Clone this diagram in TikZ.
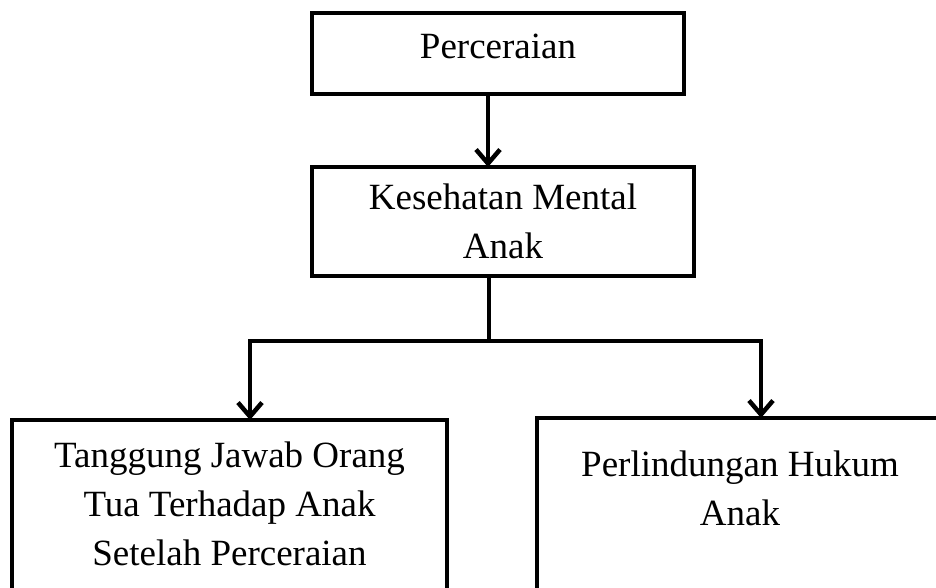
\documentclass[tikz,border=0pt]{standalone}
\usepackage{fontspec}
\setmainfont{Liberation Serif}
\usetikzlibrary{arrows.meta,positioning}

\begin{document}
\begin{tikzpicture}[
  x=1pt, y=-1pt,
  font=\fontsize{37pt}{49pt}\selectfont,
  box/.style={draw, line width=4.5pt, outer sep=0pt, inner sep=0pt, align=center},
  link/.style={line width=4.5pt},
  arrow/.style={-{Straight Barb[length=14pt, width=24pt]}, line width=4.5pt}
]
\useasboundingbox (0,0) rectangle (936,587);
\clip (0,0) rectangle (936,587);

\node[box, minimum width=372pt, minimum height=81pt, text depth=14pt] (cerai) at (498,53.5) {Perceraian};
\node[box, minimum width=382pt, minimum height=109pt, text depth=-7pt, below=73pt of cerai, xshift=5pt] (mental) {Kesehatan Mental\\Anak};
\coordinate[below=65pt of mental.south, xshift=-14pt] (cabang);

\node[box, minimum width=435pt, minimum height=172pt, text depth=5pt] (tanggung) at (229.5,506) {Tanggung Jawab Orang\\Tua Terhadap Anak\\Setelah Perceraian};
\node[box, minimum width=406pt, minimum height=174pt, text depth=34pt] (lindung) at (740,505) {Perlindungan Hukum\\Anak};

\draw[arrow] ([xshift=-10pt]cerai.south) -- ([xshift=-15pt]mental.north);
\draw[link] ([xshift=-14pt]mental.south) -- (cabang);
\draw[arrow] (cabang) -| ([xshift=20.5pt]tanggung.north);
\draw[arrow] (cabang) -| ([xshift=21pt]lindung.north);

\end{tikzpicture}
\end{document}
